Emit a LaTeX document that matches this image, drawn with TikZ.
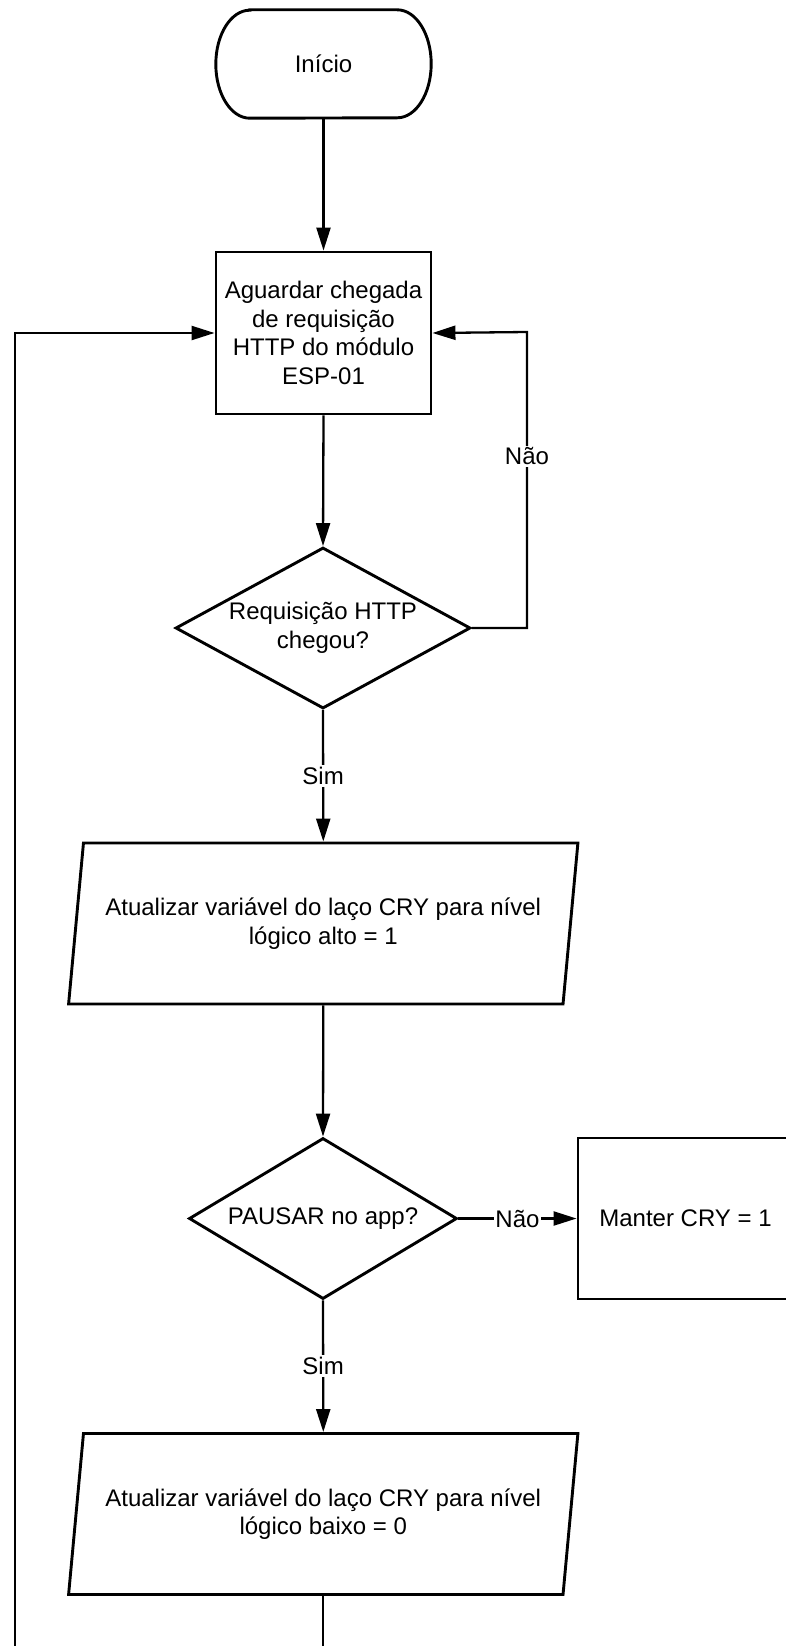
\documentclass[tikz,border=0pt]{standalone}
\usepackage{fontspec}
\setmainfont{Liberation Sans}
\usetikzlibrary{arrows.meta,shapes.geometric}

\begin{document}
\begin{tikzpicture}[
  x=1pt, y=-1pt,
  font=\fontsize{24}{28.5}\selectfont,
  border/.style={draw=black, line width=2.9pt, line join=miter},
  conn/.style={draw=black, line width=2.3pt, -{Triangle[length=23pt,width=14pt]}},
  procbox/.style={border, rectangle, minimum width=215pt, minimum height=161pt,
    inner sep=0pt, align=center},
  termtext/.style={rectangle, minimum width=215pt, minimum height=108pt, inner sep=0pt},
  decision/.style={border, diamond, inner sep=0pt, align=center},
  iobox/.style={border, trapezium, trapezium stretches=true,
    trapezium left angle=75.2, trapezium right angle=104.8,
    minimum width=511.5pt, minimum height=161pt, inner sep=0pt, align=center},
  lbl/.style={fill=white, inner sep=2pt, font=\fontsize{24}{28.5}\selectfont}
]
\useasboundingbox (0,0) rectangle (786,1646);
\fill[white] (0,0) rectangle (786,1646);
\clip (0,0) rectangle (786,1646);

% start terminator: text node with an elliptic-ended outline
\node[termtext] (start) at (323.5,64) {Início};
\draw[border] ([xshift=34pt]start.north west) -- ([xshift=-34pt]start.north east)
  arc[start angle=90, end angle=-90, x radius=34pt, y radius=54pt]
  -- ([xshift=34pt]start.south west)
  arc[start angle=270, end angle=90, x radius=34pt, y radius=54pt] -- cycle;

% main column
\node[procbox, minimum height=162pt] (wait) at (323.5,333)
  {Aguardar chegada\\de requisição\\HTTP do módulo\\ESP-01};
\node[decision, aspect=1.83, minimum width=295pt, minimum height=161pt] (dec1) at (323,628)
  {Requisição HTTP\\chegou?};
\node[iobox] (par1) at (323.25,923.5)
  {Atualizar variável do laço CRY para nível\\lógico alto = 1};
\node[decision, aspect=1.66, minimum width=268pt, minimum height=161pt] (dec2) at (323,1218.5)
  {PAUSAR no app?};
\node[procbox] (keep) at (685.5,1218.5) {Manter CRY = 1};
\node[iobox] (par2) at (323.25,1514)
  {Atualizar variável do laço CRY para nível\\lógico baixo = 0};

% loop helper points
\coordinate (rloop) at (527,332);
\coordinate (lbot) at (15,1700);

% connectors
\draw[conn] (start.south) -- (wait.north);
\draw[conn] (wait.south) -- (dec1.north);
\draw[conn] (dec1.south) -- node[lbl] {Sim} (par1.north);
\draw[conn] (dec1.east) -| node[lbl, pos=0.79] {Não} (rloop) -- (wait.east);
\draw[conn] (par1.south) -- (dec2.north);
\draw[conn] (dec2.east) -- node[lbl, inner sep=1pt] {Não} (keep.west);
\draw[conn] (dec2.south) -- node[lbl] {Sim} (par2.north);
\draw[conn] (par2.south) |- (lbot) |- (wait.west);
\end{tikzpicture}
\end{document}
